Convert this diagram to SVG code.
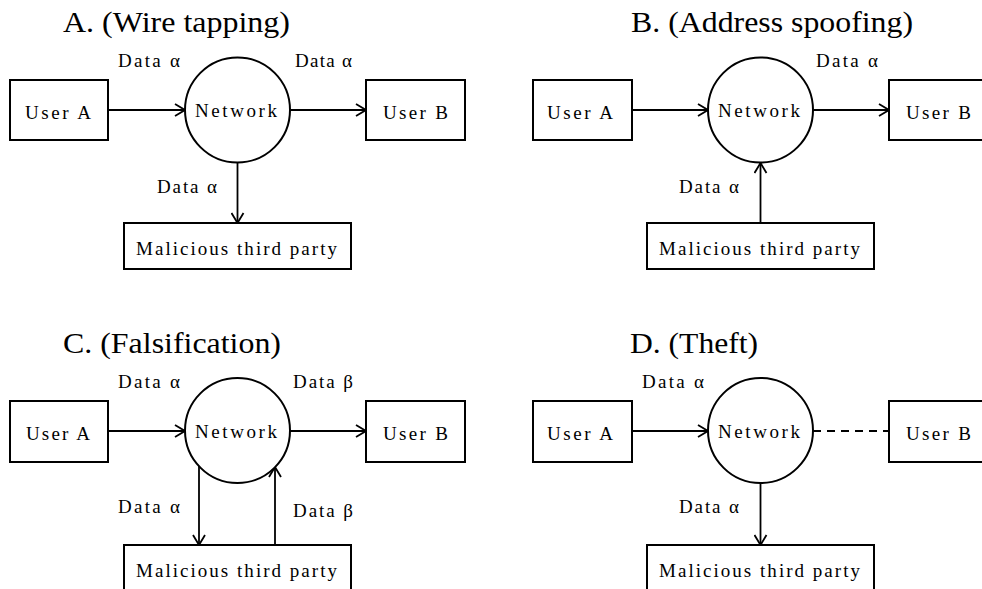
<svg xmlns="http://www.w3.org/2000/svg" width="982" height="589" viewBox="0 0 982 589">
<style>
text{font-family:"Liberation Serif","DejaVu Serif",serif;fill:#000}
.t{font-size:30px}
.l{font-size:19px}
.box{fill:#fff;stroke:#000;stroke-width:2}
.net{fill:#fff;stroke:#000;stroke-width:2}
.c{fill:none;stroke:#000;stroke-width:1.8}
.d{fill:none;stroke:#000;stroke-width:1.8;stroke-dasharray:8,6}
</style>
<defs>
<marker id="ah" markerWidth="12" markerHeight="14" refX="11" refY="7" orient="auto" markerUnits="userSpaceOnUse">
<path d="M1,1 L11,7 L1,13" fill="none" stroke="#000" stroke-width="1.8"/>
</marker>
</defs>
<g id="titles">
<text class="t" x="63" y="32" textLength="227" lengthAdjust="spacingAndGlyphs">A. (Wire tapping)</text>
<text class="t" x="631" y="32" textLength="282" lengthAdjust="spacingAndGlyphs">B. (Address spoofing)</text>
<text class="t" x="63" y="353" textLength="218" lengthAdjust="spacingAndGlyphs">C. (Falsification)</text>
<text class="t" x="630" y="353" textLength="128" lengthAdjust="spacingAndGlyphs">D. (Theft)</text>
</g>
<g id="connectors">
<line class="c" x1="108" y1="110" x2="185" y2="110" marker-end="url(#ah)"/>
<line class="c" x1="290" y1="110" x2="366" y2="110" marker-end="url(#ah)"/>
<line class="c" x1="237.5" y1="163" x2="237.5" y2="223" marker-end="url(#ah)"/>
<line class="c" x1="632" y1="110" x2="708" y2="110" marker-end="url(#ah)"/>
<line class="c" x1="813" y1="110" x2="889" y2="110" marker-end="url(#ah)"/>
<line class="c" x1="760.5" y1="223" x2="760.5" y2="163" marker-end="url(#ah)"/>
<line class="c" x1="108" y1="431" x2="185" y2="431" marker-end="url(#ah)"/>
<line class="c" x1="290" y1="431" x2="366" y2="431" marker-end="url(#ah)"/>
<line class="c" x1="199" y1="466" x2="199" y2="545" marker-end="url(#ah)"/>
<line class="c" x1="275" y1="545" x2="275" y2="467" marker-end="url(#ah)"/>
<line class="c" x1="632" y1="431" x2="708" y2="431" marker-end="url(#ah)"/>
<line class="d" x1="813" y1="431" x2="889" y2="431"/>
<line class="c" x1="760.5" y1="483" x2="760.5" y2="545" marker-end="url(#ah)"/>
</g>
<g id="labels">
<text class="l" x="118" y="67" textLength="62">Data α</text>
<text class="l" x="295" y="67" textLength="57">Data α</text>
<text class="l" x="157" y="193" textLength="60">Data α</text>
<text class="l" x="816" y="67" textLength="62">Data α</text>
<text class="l" x="679" y="193" textLength="60">Data α</text>
<text class="l" x="118" y="388" textLength="62">Data α</text>
<text class="l" x="293" y="388" textLength="60">Data β</text>
<text class="l" x="118" y="513" textLength="62">Data α</text>
<text class="l" x="293" y="517" textLength="60">Data β</text>
<text class="l" x="642" y="388" textLength="62">Data α</text>
<text class="l" x="679" y="513" textLength="60">Data α</text>
</g>
<g id="A-userA"><rect class="box" x="10" y="80" width="98" height="60"/><text class="l" x="25" y="119" textLength="66">User A</text></g>
<g id="A-network"><circle class="net" cx="237.5" cy="110" r="52.5"/><text class="l" x="195" y="117" textLength="82">Network</text></g>
<g id="A-userB"><rect class="box" x="366" y="80" width="99" height="60"/><text class="l" x="383" y="119" textLength="65">User B</text></g>
<g id="A-third"><rect class="box" x="124" y="223" width="227" height="46"/><text class="l" x="136" y="255" textLength="201">Malicious third party</text></g>
<g id="B-userA"><rect class="box" x="533" y="80" width="99" height="60"/><text class="l" x="547" y="119" textLength="66">User A</text></g>
<g id="B-network"><circle class="net" cx="760.5" cy="110" r="52.5"/><text class="l" x="718" y="117" textLength="82">Network</text></g>
<g id="B-userB"><rect class="box" x="889" y="80" width="99" height="60"/><text class="l" x="906" y="119" textLength="65">User B</text></g>
<g id="B-third"><rect class="box" x="647" y="223" width="227" height="46"/><text class="l" x="659" y="255" textLength="201">Malicious third party</text></g>
<g id="C-userA"><rect class="box" x="10" y="401" width="98" height="61"/><text class="l" x="26" y="440" textLength="64">User A</text></g>
<g id="C-network"><circle class="net" cx="237.5" cy="430.5" r="52.5"/><text class="l" x="195" y="438" textLength="82">Network</text></g>
<g id="C-userB"><rect class="box" x="366" y="401" width="99" height="61"/><text class="l" x="383" y="440" textLength="65">User B</text></g>
<g id="C-third"><rect class="box" x="124" y="545" width="227" height="60"/><text class="l" x="136" y="577" textLength="201">Malicious third party</text></g>
<g id="D-userA"><rect class="box" x="533" y="401" width="99" height="61"/><text class="l" x="547" y="440" textLength="66">User A</text></g>
<g id="D-network"><circle class="net" cx="760.5" cy="430.5" r="52.5"/><text class="l" x="718" y="438" textLength="82">Network</text></g>
<g id="D-userB"><rect class="box" x="889" y="401" width="99" height="61"/><text class="l" x="906" y="440" textLength="65">User B</text></g>
<g id="D-third"><rect class="box" x="647" y="545" width="227" height="60"/><text class="l" x="659" y="577" textLength="201">Malicious third party</text></g>
</svg>
